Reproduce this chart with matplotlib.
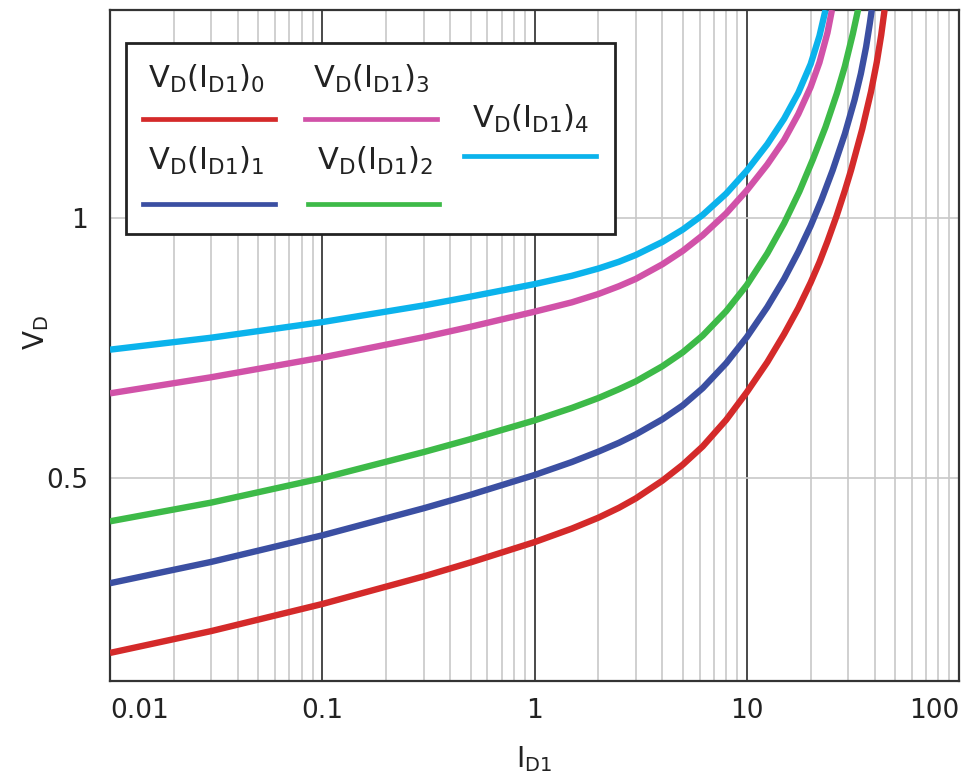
import matplotlib
matplotlib.use('Agg')
import matplotlib.pyplot as plt
import numpy as np
from matplotlib.ticker import LogLocator, NullFormatter
from matplotlib.transforms import Affine2D
from matplotlib.patches import Rectangle
from matplotlib.lines import Line2D

# curves (current I_D1, voltage V_D)
i0 = [0.01, 0.03, 0.1, 0.3, 0.5, 1, 1.5, 2, 2.5, 3, 4, 5, 6.2, 8, 10, 12.5, 15, 17.5, 20, 22,
      24, 26.5, 29, 31, 35, 38.5, 41, 43, 44.6]
v0 = [0.164, 0.206, 0.258, 0.311, 0.338, 0.377, 0.403, 0.424, 0.443, 0.461, 0.495, 0.526,
      0.561, 0.612, 0.665, 0.723, 0.777, 0.827, 0.876, 0.915, 0.955, 1.004, 1.053, 1.092,
      1.171, 1.243, 1.30, 1.352, 1.40]

i1 = [0.01, 0.03, 0.1, 0.3, 0.5, 1, 1.5, 2, 2.5, 3, 4, 5, 6.2, 8, 10, 12.5, 15, 17.5, 20, 22.5,
      25.4, 29, 32.2, 34.5, 36.5, 38, 38.8]
v1 = [0.298, 0.339, 0.390, 0.442, 0.468, 0.506, 0.531, 0.551, 0.568, 0.584, 0.613, 0.640,
      0.673, 0.721, 0.771, 0.829, 0.883, 0.935, 0.985, 1.035, 1.092, 1.162, 1.227, 1.278,
      1.329, 1.374, 1.40]

i2 = [0.01, 0.03, 0.1, 0.3, 0.5, 1, 1.5, 2, 2.5, 3, 4, 5, 6.2, 8, 10, 12.5, 15, 17.7, 20.5,
      23.5, 26.6, 29, 31.6, 33.6]
v2 = [0.417, 0.453, 0.500, 0.550, 0.575, 0.611, 0.635, 0.654, 0.671, 0.686, 0.715, 0.742,
      0.774, 0.821, 0.871, 0.932, 0.990, 1.051, 1.113, 1.175, 1.240, 1.292, 1.354, 1.404]

i3 = [0.01, 0.03, 0.1, 0.3, 0.5, 1, 1.5, 2, 2.5, 3, 4, 5, 6.2, 8, 10, 12.5, 15, 17.5, 20, 22,
      24, 25.2]
v3 = [0.663, 0.694, 0.732, 0.771, 0.791, 0.820, 0.838, 0.854, 0.869, 0.883, 0.911, 0.937,
      0.967, 1.009, 1.053, 1.103, 1.150, 1.200, 1.252, 1.299, 1.356, 1.40]

i4 = [0.01, 0.03, 0.1, 0.3, 0.5, 1, 1.5, 2, 2.5, 3, 4, 5, 6.2, 8, 10, 12.5, 15, 17.5, 20, 22,
      23.5]
v4 = [0.747, 0.770, 0.800, 0.832, 0.849, 0.873, 0.889, 0.903, 0.916, 0.929, 0.954, 0.978,
      1.006, 1.047, 1.091, 1.142, 1.191, 1.241, 1.296, 1.350, 1.40]

colors = ['#d42a2a', '#3b4fa2', '#3dba48', '#d152a8', '#0bb3ec']
labels = [r'$\mathregular{V_D(I_{D1})_%d}$' % k for k in range(5)]

xticks = [0.01, 0.1, 1, 10, 100]
xticklabels = ['0.01', '0.1', '1', '10', '100']
yticks = [0.5, 1]
yticklabels = ['0.5', '1']

W, H = 966, 780
fig = plt.figure(figsize=(W / 100, H / 100), dpi=100)
ax = fig.add_axes([110 / W, 1 - 681 / H, 849 / W, 671 / H])

curves = [(i0, v0), (i1, v1), (i2, v2), (i3, v3), (i4, v4)]
for (ii, vv), c in zip(curves, colors):
    ax.plot(ii, vv, color=c, lw=4.6, solid_capstyle='butt', solid_joinstyle='round', zorder=3)

ax.set_xscale('log')
ax.set_xlim(0.01, 100)
ax.set_ylim(0.11, 1.4)
ax.set_xticks(xticks)
ax.set_xticklabels(xticklabels)
ax.xaxis.set_minor_locator(LogLocator(base=10, subs=np.arange(2, 10)))
ax.xaxis.set_minor_formatter(NullFormatter())
ax.set_yticks(yticks)
ax.set_yticklabels(yticklabels)
ax.tick_params(which='both', length=0, labelsize=19, colors='#222222')
ax.tick_params(axis='x', pad=12)
ax.tick_params(axis='y', pad=16)
tl = ax.get_xticklabels()
tl[0].set_ha('left')
tl[-1].set_ha('right')

ax.grid(which='minor', axis='x', color='#c8c8c8', lw=1.2)
ax.grid(which='major', axis='x', color='#3a3a3a', lw=1.3)
ax.grid(which='major', axis='y', color='#c8c8c8', lw=1.2)
ax.set_axisbelow(True)
for s in ax.spines.values():
    s.set_color('#333333')
    s.set_linewidth(1.6)

ax.set_xlabel(r'$\mathregular{I_{D1}}$', fontsize=20, color='#222222', labelpad=15)
ax.set_ylabel(r'$\mathregular{V_D}$', fontsize=20, color='#222222')
ax.yaxis.set_label_coords(-0.07, 0.52)

# hand-made legend box (pixel coordinates, origin top-left)
pix = Affine2D().scale(1 / W, -1 / H).translate(0, 1) + fig.transFigure
fig.add_artist(Rectangle((126, 43), 489, 191, transform=pix, facecolor='white',
                         edgecolor='#222222', lw=2.0, zorder=5))
entries = [  # (text x, text baseline, line x0, line x1, line y)
    (148, 88, 143, 275, 119),
    (148, 170, 143, 275, 204),
    (317, 170, 308, 439, 204),
    (313, 88, 305, 437, 119),
    (472, 128, 464, 596, 156),
]
for (tx, ty, x0, x1, ly), c, lab in zip(entries, colors, labels):
    fig.add_artist(Line2D([x0, x1], [ly, ly], transform=pix, color=c, lw=3.4, zorder=6))
    fig.text(tx, ty, lab, transform=pix, fontsize=22, va='baseline', color='#222222', zorder=6)

fig.savefig('out.png', dpi=100)
